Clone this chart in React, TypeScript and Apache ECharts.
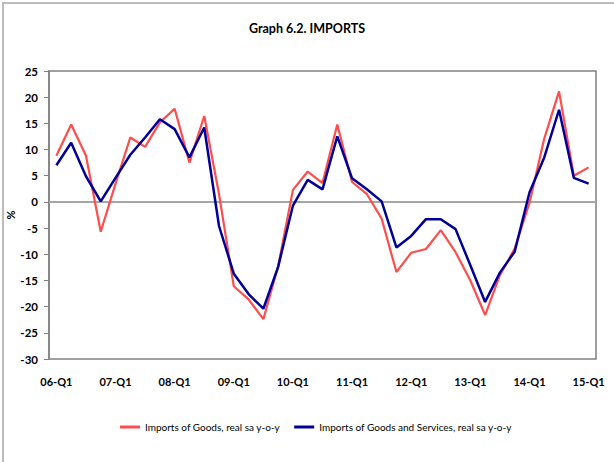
import React, { useEffect, useRef } from "react";
import * as echarts from "echarts";

const categories: string[] = [];
const years = ["06", "07", "08", "09", "10", "11", "12", "13", "14", "15"];
years.forEach((y, yi) => {
  const qs = yi === years.length - 1 ? ["Q1"] : ["Q1", "Q2", "Q3", "Q4"];
  qs.forEach((q) => categories.push(`${y}-${q}`));
});

const goods = [
  8.8, 14.8, 8.8, -5.7, 3.5, 12.3, 10.5, 15.2, 17.8, 7.5, 16.4, 1.5, -16.1, -18.6, -22.4, -12.3,
  2.3, 5.8, 3.6, 14.8, 3.8, 1.5, -3.2, -13.4, -9.7, -9.0, -5.4, -9.6, -15.0, -21.6, -14.0, -8.9,
  -0.2, 12.1, 21.1, 5.0, 6.6,
];

const goodsServices = [
  7.0, 11.3, 4.9, 0.1, 4.6, 9.0, 12.3, 15.8, 13.9, 8.5, 14.2, -4.6, -13.7, -17.6, -20.4, -12.4,
  -0.7, 4.2, 2.4, 12.5, 4.5, 2.4, 0.1, -8.7, -6.5, -3.3, -3.3, -5.2, -12.1, -19.1, -13.5, -9.5,
  1.8, 8.5, 17.6, 4.6, 3.5,
];

const FONT = "Lato, 'Open Sans', sans-serif";

export default function App() {
  const ref = useRef<HTMLDivElement>(null);
  useEffect(() => {
    if (!ref.current) return;
    const chart = echarts.init(ref.current, undefined, { renderer: "svg" });
    chart.setOption({
      animation: false,
      backgroundColor: "#ffffff",
      title: {
        text: "Graph 6.2. IMPORTS",
        left: "center",
        top: 22,
        padding: 0,
        textStyle: { fontFamily: FONT, fontSize: 12.5, fontWeight: "bold", color: "#000" },
      },
      graphic: [
        {
          type: "rect",
          z: 100,
          silent: true,
          shape: { x: 2, y: 2, width: 2, height: 460 },
          style: { fill: "#bdbdbd" },
        },
        {
          type: "rect",
          z: 100,
          silent: true,
          shape: { x: 2, y: 2, width: 612, height: 2 },
          style: { fill: "#bdbdbd" },
        },
      ],
      legend: {
        left: 120,
        top: 422,
        padding: 0,
        itemWidth: 20,
        itemHeight: 3,
        itemGap: 14,
        icon: "rect",
        textStyle: { fontFamily: FONT, fontSize: 10, color: "#000" },
        data: ["Imports of Goods, real sa y-o-y", "Imports of Goods and Services, real sa y-o-y"],
      },
      grid: {
        left: 49,
        right: 18,
        top: 71,
        bottom: 103,
        show: true,
        borderColor: "#808080",
        borderWidth: 1.5,
        containLabel: false,
        outerBoundsMode: "none",
      },
      xAxis: {
        type: "category",
        data: categories,
        boundaryGap: true,
        axisLine: { show: true, lineStyle: { color: "#808080", width: 1.5 } },
        axisTick: { show: false },
        axisLabel: {
          interval: 3,
          margin: 17,
          fontFamily: FONT,
          fontSize: 11,
          fontWeight: "bold",
          color: "#000",
        },
        splitLine: { show: false },
      },
      yAxis: {
        type: "value",
        min: -30,
        max: 25,
        interval: 5,
        name: "%",
        nameLocation: "middle",
        nameRotate: 90,
        nameGap: 33,
        nameMoveOverlap: false,
        nameTextStyle: { fontFamily: FONT, fontSize: 11, fontWeight: "bold", color: "#000" },
        axisLine: { show: true, lineStyle: { color: "#808080", width: 1.5 } },
        axisTick: { show: true, length: 5, inside: false, lineStyle: { color: "#808080" } },
        axisLabel: {
          margin: 11,
          fontFamily: FONT,
          fontSize: 11.5,
          fontWeight: "bold",
          color: "#000",
        },
        splitLine: { show: false },
      },
      series: [
        {
          name: "Imports of Goods, real sa y-o-y",
          type: "line",
          data: goods,
          symbol: "none",
          showSymbol: false,
          color: "#ff4d4d",
          lineStyle: { color: "#ff4d4d", width: 2.2 },
          z: 2,
          markLine: {
            silent: true,
            symbol: "none",
            label: { show: false },
            lineStyle: { color: "#a6a6a6", width: 2, type: "solid" },
            data: [{ yAxis: 0 }],
            z: 1,
          },
        },
        {
          name: "Imports of Goods and Services, real sa y-o-y",
          type: "line",
          data: goodsServices,
          symbol: "none",
          showSymbol: false,
          color: "#000099",
          lineStyle: { color: "#000099", width: 2.5 },
          z: 3,
        },
      ],
    });
    return () => chart.dispose();
  }, []);
  return (
    <div style={{ position: "fixed", left: 0, top: 0, width: 614, height: 462 }}>
      <div ref={ref} style={{ width: 614, height: 462 }} />
    </div>
  );
}
